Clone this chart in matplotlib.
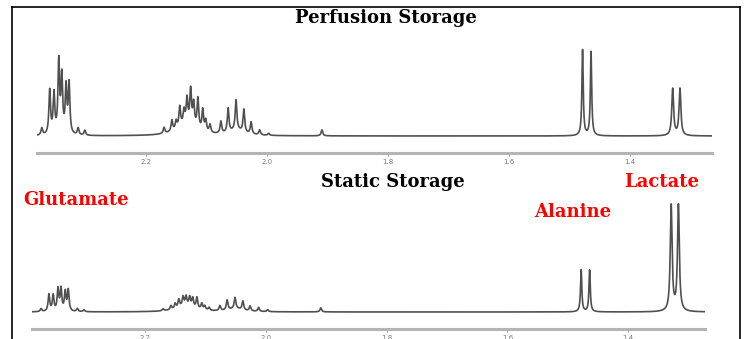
import numpy as np
import matplotlib.pyplot as plt
from matplotlib.lines import Line2D

# peak list (ppm) shared by both spectra, heights
peak_ppm = [2.372, 2.359, 2.352, 2.344, 2.339, 2.332, 2.327, 2.312, 2.301,
            2.170, 2.157, 2.150, 2.144, 2.137, 2.132, 2.126, 2.121, 2.114,
            2.106, 2.101, 2.094, 2.076, 2.064, 2.051, 2.038, 2.026, 2.012,
            1.997, 1.909,
            1.478, 1.464,
            1.329, 1.317]
peak_width = [0.0016] * 29 + [0.0013, 0.0013] + [0.0018, 0.0018]
perfusion_h = [7, 44, 40, 72, 56, 46, 50, 7, 5,
               6, 11, 8, 20, 13, 24, 34, 22, 30,
               21, 11, 8, 12, 24, 30, 23, 12, 5,
               2, 6,
               86, 84,
               47, 47]
static_h = [3, 17, 16, 22, 22, 19, 21, 3, 2,
            2, 4, 5, 8, 9, 9, 9, 9, 11,
            6, 4, 3, 5, 10, 11, 9, 5, 4,
            2, 4,
            42, 42,
            106, 106]

# broad humps under the multiplets
hump_ppm = [2.132, 2.050]
hump_width = [0.018, 0.014]
perfusion_hump = [12, 5]
static_hump = [6, 3]

ticks = [2.2, 2.0, 1.8, 1.6, 1.4]


def spectrum(ppm, pos, hts, wids):
    y = np.zeros_like(ppm)
    for p, h, w in zip(pos, hts, wids):
        y += h * w**2 / ((ppm - p)**2 + w**2)
    return y


W, H = 745, 339
fig = plt.figure(figsize=(7.45, 3.39), dpi=100)


def add_ax(x0, x1, ytop, ybot):
    return fig.add_axes([x0 / W, 1 - ybot / H, (x1 - x0) / W, (ybot - ytop) / H])


panels = [
    (add_ax(37, 712, 40, 153), (2.380, 1.264), perfusion_h, perfusion_hump, 96),
    (add_ax(32, 705, 190, 329), (2.387, 1.273), static_h, static_hump, 122),
]

for ax, xl, hts, hump, ytop in panels:
    x = np.linspace(xl[0], xl[1], 6000)
    y = spectrum(x, peak_ppm, hts, peak_width) + spectrum(x, hump_ppm, hump, hump_width)
    ax.plot(x, y, color='#505050', lw=1.2)
    ax.set_xlim(xl)
    ax.set_ylim(-17, ytop)
    for s in ['top', 'left', 'right']:
        ax.spines[s].set_visible(False)
    ax.spines['bottom'].set_color('#b4b4b4')
    ax.spines['bottom'].set_linewidth(2.2)
    ax.set_yticks([])
    ax.set_xticks(ticks)
    ax.set_xticklabels([f'{t:.1f}' for t in ticks])
    ax.tick_params(axis='x', length=2, width=0.6, color='#888888',
                   labelsize=5, labelcolor='#777777', pad=2)
    ax.patch.set_alpha(0)

serif = 'DejaVu Serif'
fig.text(386 / W, 1 - 18 / H, 'Perfusion Storage', ha='center', va='center',
         fontsize=13, fontweight='bold', family=serif)
fig.text(393 / W, 1 - 182 / H, 'Static Storage', ha='center', va='center',
         fontsize=13, fontweight='bold', family=serif)
fig.text(76 / W, 1 - 200 / H, 'Glutamate', ha='center', va='center',
         fontsize=13, fontweight='bold', family=serif, color='red')
fig.text(573 / W, 1 - 212 / H, 'Alanine', ha='center', va='center',
         fontsize=13, fontweight='bold', family=serif, color='red')
fig.text(662 / W, 1 - 182 / H, 'Lactate', ha='center', va='center',
         fontsize=13, fontweight='bold', family=serif, color='red')

# frame around the figure (open at the bottom)
for xs, ys in [([12, 12], [7, H]), ([12, 740], [7, 7]), ([740, 740], [7, H])]:
    fig.add_artist(Line2D([v / W for v in xs], [1 - v / H for v in ys],
                          color='black', lw=1.2))

fig.savefig('out.png', dpi=100)
